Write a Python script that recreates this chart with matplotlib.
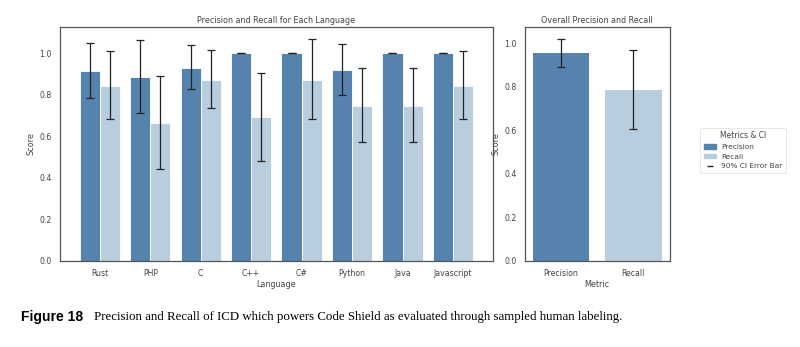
import numpy as np
import matplotlib.pyplot as plt
from matplotlib.patches import Patch
from matplotlib.lines import Line2D

# datos
lenguajes = ["Rust", "PHP", "C", "C++", "C#", "Python", "Java", "Javascript"]
precision = [0.914, 0.887, 0.928, 1.0, 1.0, 0.920, 1.0, 1.0]
prec_inf = [0.786, 0.714, 0.827, 1.0, 1.0, 0.800, 1.0, 1.0]
prec_sup = [1.048, 1.061, 1.040, 1.0, 1.0, 1.045, 1.0, 1.0]
recall = [0.843, 0.664, 0.872, 0.690, 0.872, 0.746, 0.746, 0.843]
rec_inf = [0.682, 0.440, 0.738, 0.479, 0.685, 0.571, 0.571, 0.682]
rec_sup = [1.010, 0.890, 1.013, 0.904, 1.066, 0.928, 0.928, 1.010]

metricas = ["Precision", "Recall"]
global_valor = [0.956, 0.784]
global_inf = [0.893, 0.605]
global_sup = [1.022, 0.968]

c_prec = "#5683ad"
c_rec = "#b8cedf"
c_texto = "#444444"
c_borde = "#555555"

plt.rcParams["font.family"] = "DejaVu Sans"

fig = plt.figure(figsize=(8, 3.47), dpi=100)
ax1 = fig.add_axes([0.075, 0.248, 0.541, 0.674])
ax2 = fig.add_axes([0.656, 0.248, 0.181, 0.674])


def estilo(ax):
    for s in ax.spines.values():
        s.set_color(c_borde)
        s.set_linewidth(0.9)
    ax.tick_params(length=0, labelsize=5.6, colors=c_texto, pad=6)


x = np.arange(len(lenguajes))
ancho = 0.4
err_kw = dict(ecolor="#222222", elinewidth=0.9, capsize=2.6, capthick=0.9)
yerr_p = [np.array(precision) - np.array(prec_inf), np.array(prec_sup) - np.array(precision)]
yerr_r = [np.array(recall) - np.array(rec_inf), np.array(rec_sup) - np.array(recall)]
ax1.bar(x - ancho / 2, precision, ancho, color=c_prec, edgecolor="white", linewidth=0.6,
        yerr=yerr_p, error_kw=err_kw)
ax1.bar(x + ancho / 2, recall, ancho, color=c_rec, edgecolor="white", linewidth=0.6,
        yerr=yerr_r, error_kw=err_kw)
ax1.set_xticks(x)
ax1.set_xticklabels(lenguajes)
ax1.set_xlim(-0.79, len(lenguajes) - 1 + 0.79)
ax1.set_ylim(0, 1.125)
ax1.set_yticks(np.arange(0, 1.01, 0.2))
ax1.set_yticklabels([f"{v:.1f}" for v in np.arange(0, 1.01, 0.2)])
ax1.set_title("Precision and Recall for Each Language", fontsize=5.8, color=c_texto, pad=3)
ax1.set_xlabel("Language", fontsize=5.8, color=c_texto, labelpad=1)
ax1.set_ylabel("Score", fontsize=5.8, color=c_texto, labelpad=2.5)
estilo(ax1)

x2 = np.arange(len(metricas))
yerr_g = [np.array(global_valor) - np.array(global_inf), np.array(global_sup) - np.array(global_valor)]
ax2.bar(x2, global_valor, 0.78, color=[c_prec, c_rec], yerr=yerr_g, error_kw=err_kw)
ax2.set_xticks(x2)
ax2.set_xticklabels(metricas)
ax2.set_xlim(-0.5, 1.5)
ax2.set_ylim(0, 1.075)
ax2.set_yticks(np.arange(0, 1.01, 0.2))
ax2.set_yticklabels([f"{v:.1f}" for v in np.arange(0, 1.01, 0.2)])
ax2.set_title("Overall Precision and Recall", fontsize=5.8, color=c_texto, pad=3)
ax2.set_xlabel("Metric", fontsize=5.8, color=c_texto, labelpad=1)
ax2.set_ylabel("Score", fontsize=5.8, color=c_texto, labelpad=2.5)
estilo(ax2)

handles = [Patch(color=c_prec, label="Precision"),
           Patch(color=c_rec, label="Recall"),
           Line2D([], [], color="#222222", marker="_", linestyle="none", markersize=5,
                  markeredgewidth=1, label="90% CI Error Bar")]
leg = fig.legend(handles=handles, title="Metrics & CI", loc="upper left",
                 bbox_to_anchor=(0.871, 0.643), fontsize=5.3, title_fontsize=5.5,
                 frameon=True, handlelength=1.6, handleheight=0.6, borderpad=0.5,
                 labelspacing=0.5, handletextpad=0.7)
leg.get_frame().set_edgecolor("#dddddd")
leg.get_frame().set_linewidth(0.6)
for t in leg.get_texts():
    t.set_color(c_texto)
leg.get_title().set_color(c_texto)

fig.text(0.026, 0.087, "Figure 18", fontsize=10, fontweight="bold", family="Liberation Sans",
         va="center")
fig.text(0.1175, 0.087, "Precision and Recall of ICD which powers Code Shield as evaluated through sampled human labeling.",
         fontsize=9.3, family="Liberation Serif", va="center")

fig.savefig("out.png", dpi=100)
